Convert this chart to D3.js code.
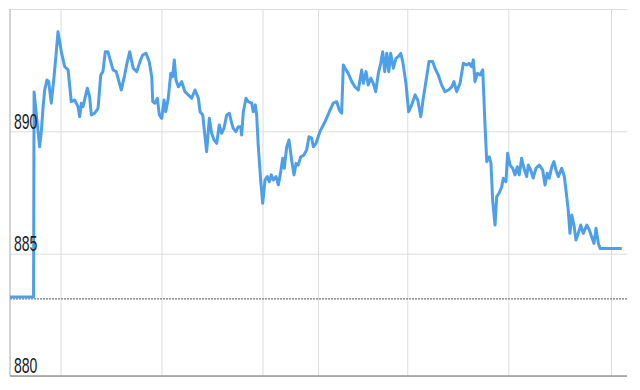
<!DOCTYPE html>
<html>
<head>
<meta charset="utf-8">
<script src="https://cdn.jsdelivr.net/npm/d3@7"></script>
<style>
	html, body { margin: 0; padding: 0; background: #fff; }
	svg { display: block; }
</style>
</head>
<body>
<svg id="chart" width="640" height="390"></svg>
<script>
	'use strict';

	// minutes since start of the chart
	var minutes = [
		0, 14.0, 14.3, 17.6, 18.6, 19.6, 20.6, 22.0, 23.0, 24.5, 26.1, 27.5, 28.5, 30.5, 32.5, 34.5,
		36.4, 38.4, 40.4, 41.4, 42.4, 43.4, 45.9, 47.3, 48.3, 50.3, 52.3, 53.9, 55.2, 56.6, 58.2, 59.2,
		61.2, 63.1, 66.1, 68.1, 69.7, 71.1, 73.2, 75.3, 77.2, 78.8, 80.8, 82.7, 84.2, 84.8, 86.1, 87.5,
		88.7, 90.1, 91.5, 92.5, 94.0, 95.5, 96.6, 97.6, 98.6, 100.0, 102.0, 103.9, 105.9, 107.9, 109.9, 111.9,
		112.9, 114.5, 115.2, 116.8, 118.4, 119.8, 121.2, 122.8, 124.3, 125.7, 127.1, 128.7, 130.3, 131.7, 132.6, 134.2,
		135.6, 137.0, 137.6, 138.6, 140.2, 141.5, 143.6, 144.5, 145.7, 146.5, 147.5, 148.9, 150.1, 151.5, 152.8, 154.0,
		155.2, 156.4, 158.0, 159.4, 160.8, 162.0, 162.9, 164.4, 165.7, 167.3, 168.7, 169.9, 171.2, 172.7, 174.6, 176.2,
		177.6, 179.2, 180.2, 181.8, 184.1, 187.1, 190.1, 192.0, 194.1, 195.6, 197.0, 198.0, 199.6, 200.9, 203.0, 204.9,
		206.9, 208.9, 209.9, 211.5, 212.8, 214.3, 215.8, 217.2, 218.8, 220.2, 221.4, 222.6, 223.8, 225.0, 226.1, 227.7,
		229.3, 230.6, 232.1, 233.3, 235.2, 236.8, 238.6, 240.6, 242.2, 244.0, 245.5, 247.5, 248.9, 251.1, 252.4, 254.4,
		256.4, 258.4, 260.4, 262.4, 263.7, 265.3, 267.3, 269.3, 271.3, 272.8, 274.2, 275.2, 276.2, 277.6, 279.2, 280.8,
		282.2, 283.2, 284.7, 285.7, 286.7, 288.1, 289.1, 290.5, 292.1, 293.0, 294.6, 295.6, 297.0, 298.6, 300.0, 301.3,
		302.5, 303.9, 305.3, 306.9, 307.9, 309.3, 310.8, 312.4, 314.4, 316.4, 317.8, 319.1, 320.3, 321.8, 323.1, 324.3,
		325.7, 327.7, 329.3, 330.7, 331.6, 332.6, 333.7, 335.0, 336.2, 337.6, 339.0, 340.5, 342.6, 344.1, 345.5, 346.9,
		348.1, 349.5, 350.5, 363.4
	];

	var prices = [
		883.23, 883.23, 891.61, 889.37, 889.99, 890.95, 891.69, 892.10, 892.03, 891.15, 892.18, 893.25, 894.07, 893.25, 892.64, 892.51,
		891.21, 891.28, 891.01, 890.60, 891.15, 891.01, 891.76, 891.42, 890.67, 890.74, 890.94, 892.30, 892.44, 893.25, 893.25, 892.99,
		892.51, 892.44, 891.69, 892.30, 892.85, 893.25, 892.58, 892.44, 892.85, 893.12, 893.19, 892.85, 892.23, 891.21, 891.15, 891.35,
		890.67, 890.53, 891.28, 890.80, 891.35, 892.37, 892.23, 892.92, 892.10, 891.82, 892.03, 891.62, 891.49, 891.35, 891.69, 891.35,
		890.80, 890.67, 890.19, 889.17, 890.53, 889.92, 889.65, 889.51, 890.26, 889.92, 890.12, 890.67, 890.74, 890.33, 890.12, 889.99,
		890.19, 890.19, 889.85, 890.80, 891.35, 891.21, 891.15, 890.80, 891.08, 890.67, 889.37, 888.01, 887.06, 888.01, 888.15, 887.94,
		888.22, 888.01, 888.15, 887.81, 888.35, 888.90, 888.49, 889.37, 889.65, 888.83, 888.22, 888.69, 888.62, 888.96, 889.03, 889.24,
		889.78, 889.72, 889.37, 889.51, 889.99, 890.39, 890.87, 891.15, 891.21, 890.87, 890.74, 892.71, 892.51, 892.37, 892.03, 891.82,
		891.69, 892.51, 891.96, 892.44, 891.89, 892.17, 891.96, 891.62, 892.37, 892.78, 893.25, 892.44, 893.19, 892.44, 893.19, 892.58,
		892.99, 893.05, 893.19, 892.85, 891.96, 890.80, 891.08, 891.49, 891.28, 890.60, 891.35, 892.23, 892.85, 892.85, 892.58, 892.30,
		891.89, 891.62, 891.69, 891.82, 892.03, 891.62, 891.96, 892.78, 892.71, 892.78, 892.64, 892.92, 892.03, 892.37, 892.30, 892.51,
		890.19, 888.76, 888.96, 888.69, 887.19, 886.17, 887.33, 887.47, 887.74, 888.08, 887.94, 889.10, 888.62, 888.49, 888.22, 888.55,
		888.22, 888.90, 888.49, 888.15, 888.62, 888.42, 888.09, 888.49, 888.62, 888.42, 887.81, 888.29, 888.08, 888.55, 888.76, 888.42,
		888.15, 888.49, 888.15, 887.33, 886.78, 885.83, 886.58, 886.17, 885.56, 885.83, 886.17, 885.83, 886.17, 885.97, 885.69, 885.42,
		886.04, 885.42, 885.21, 885.21
	];

	var prevClose = 883.15;
	var yTicks = [880, 885, 890, 895];
	var yLabels = [880, 885, 890];
	var xTicks = [30, 90, 150, 183, 236, 296, 357];

	var data = minutes.map(function(m, i) { return {t: m, v: prices[i]}; });

	var svg = d3.select('#chart');
	var plot = {left: 10, right: 627, top: 9, bottom: 376};

	var x = d3.scaleLinear().domain([0, 366.5]).range([plot.left, plot.right]);
	var y = d3.scaleLinear().domain([880, 895]).range([plot.bottom, plot.top]);

	// horizontal grid
	svg.append('g')
		.attr('transform', 'translate(' + plot.left + ',0)')
		.call(d3.axisLeft(y).tickValues(yTicks).tickSize(-(plot.right - plot.left)).tickFormat(''))
		.call(function(g) {
			g.select('.domain').remove();
			g.selectAll('line').attr('stroke', '#dcdcdc');
		});

	// vertical grid
	svg.append('g')
		.attr('transform', 'translate(0,' + plot.bottom + ')')
		.call(d3.axisBottom(x).tickValues(xTicks).tickSize(-(plot.bottom - plot.top)).tickFormat(''))
		.call(function(g) {
			g.select('.domain').remove();
			g.selectAll('line').attr('stroke', '#dcdcdc');
		});

	// previous close
	svg.append('line')
		.attr('x1', plot.left).attr('x2', plot.right)
		.attr('y1', y(prevClose)).attr('y2', y(prevClose))
		.attr('stroke', '#7a7a7a')
		.attr('stroke-width', 1.3)
		.attr('stroke-dasharray', '2,1');

	// axis lines
	svg.append('line')
		.attr('x1', plot.left).attr('x2', plot.left).attr('y1', plot.top).attr('y2', plot.bottom)
		.attr('stroke', '#aaa');
	svg.append('line')
		.attr('x1', plot.left).attr('x2', plot.right).attr('y1', plot.bottom).attr('y2', plot.bottom)
		.attr('stroke', '#999').attr('stroke-width', 1.5);

	var line = d3.line()
		.x(function(d) { return x(d.t); })
		.y(function(d) { return y(d.v); });

	svg.append('path')
		.datum(data)
		.attr('fill', 'none')
		.attr('stroke', '#4d9fea')
		.attr('stroke-width', 3)
		.attr('stroke-linejoin', 'round')
		.attr('d', line);

	// labels (the source is stretched vertically)
	svg.append('g')
		.selectAll('text')
		.data(yLabels)
		.enter().append('text')
			.attr('transform', function(d) { return 'translate(14,' + (y(d) - 2.7) + ') scale(1,1.62)'; })
			.attr('font-family', 'Liberation Sans, Arial, sans-serif')
			.attr('font-size', 14)
			.attr('fill', '#1a1a1a')
			.text(function(d) { return d; });
</script>
</body>
</html>
